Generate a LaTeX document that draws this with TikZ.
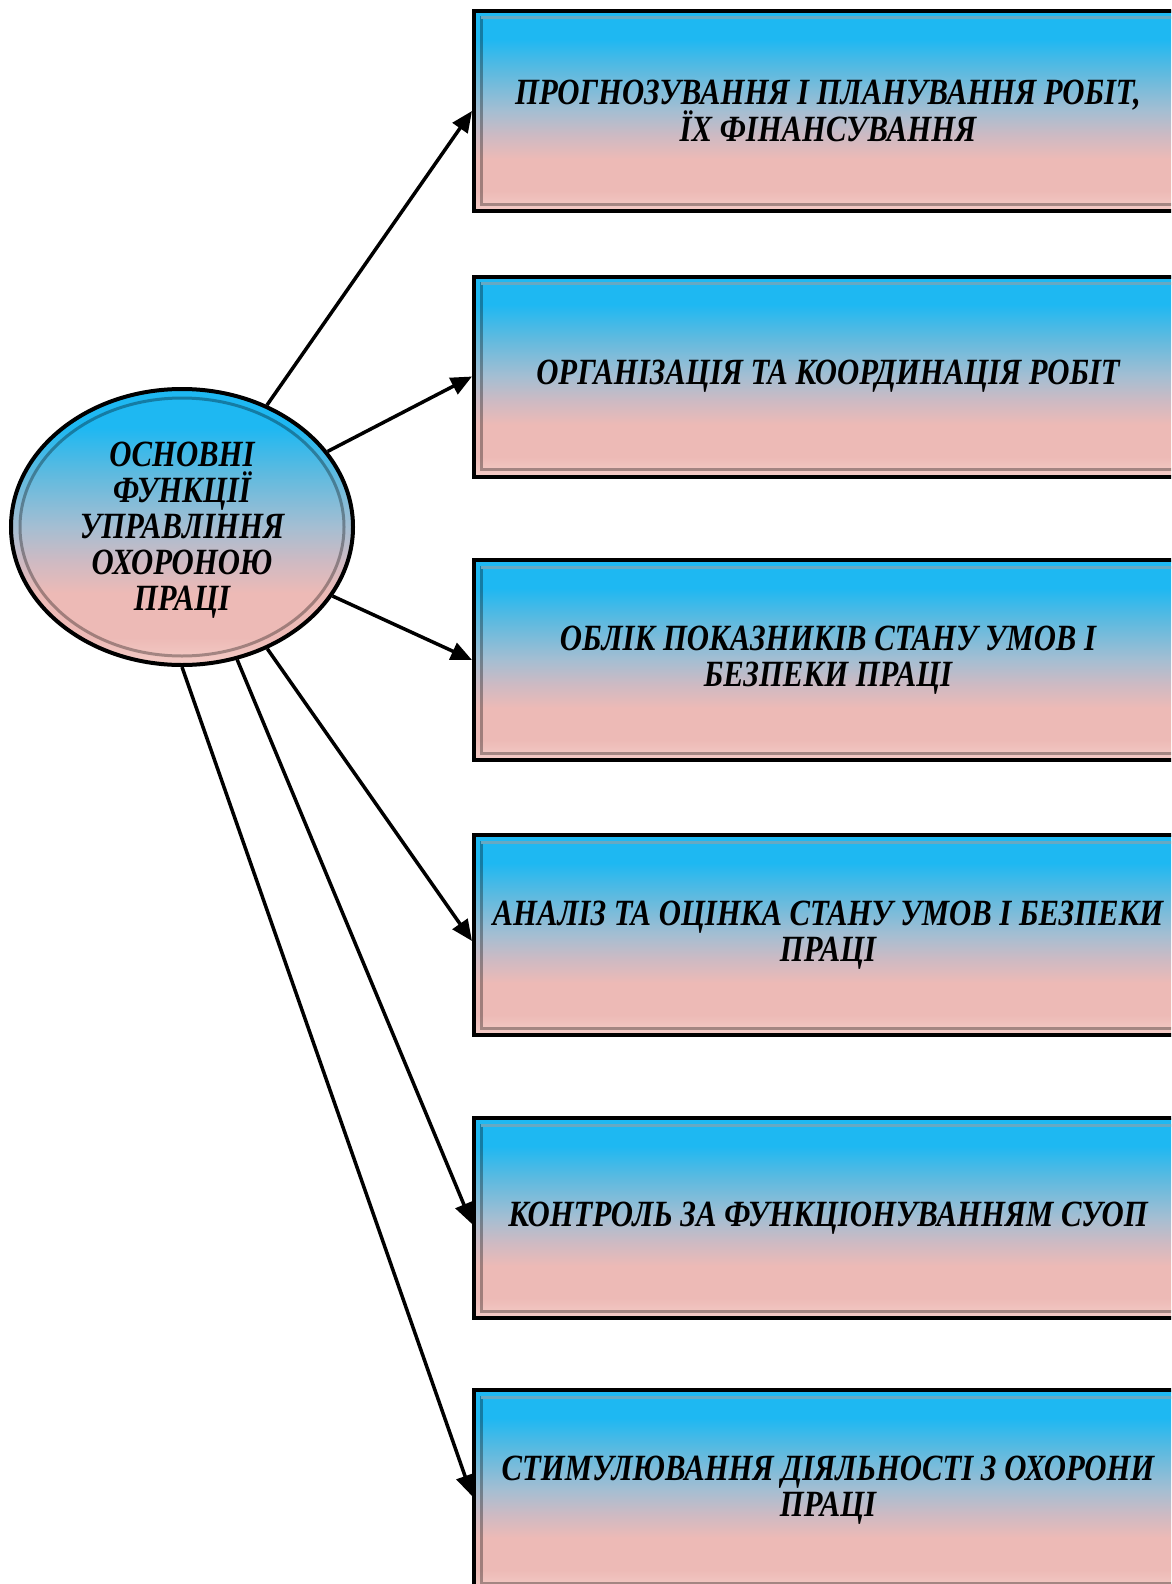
\documentclass[tikz,border=0pt]{standalone}
\usepackage{fontspec}
\setmainfont{Liberation Serif}
\newfontfamily\condfont[FakeStretch=0.83]{Liberation Serif}
\usetikzlibrary{arrows.meta,shapes.geometric}
\definecolor{topc}{RGB}{30,184,242}
\definecolor{bluem}{RGB}{92,186,224}
\definecolor{midc}{RGB}{165,190,210}
\definecolor{mauvec}{RGB}{205,186,195}
\definecolor{pinkc}{RGB}{237,186,182}
\definecolor{botc}{RGB}{244,204,199}
\pgfdeclareverticalshading{bp}{100bp}{color(0bp)=(botc); color(25bp)=(botc); color(30bp)=(pinkc); color(38bp)=(pinkc); color(44bp)=(mauvec); color(50bp)=(midc); color(60bp)=(bluem); color(68bp)=(topc); color(100bp)=(topc)}
\tikzset{
  funcbox/.style={rectangle, draw=black, line width=4, shading=bp, minimum width=708, minimum height=200, inner sep=0},
  oval/.style={ellipse, draw=black, line width=4, shading=bp, minimum width=342, minimum height=276, inner sep=0},
  bevel/.style={draw=black, opacity=0.32, line width=3},
  bevellight/.style={draw=white, opacity=0.35, line width=3},
  ftext/.style={font=\condfont\bfseries\itshape\fontsize{37}{36}\selectfont, align=center, text=black},
  arr/.style={line width=3.5, -{Triangle[length=21,width=18]}}
}
\begin{document}
\begin{tikzpicture}[x=1pt,y=-1pt]
\useasboundingbox (0,0) rectangle (1171,1584);
\clip (0,0) rectangle (1171,1584);
% boxes
\node[funcbox] (b1) at (828,111) {};
\node[funcbox] (b2) at (828,376.5) {};
\node[funcbox] (b3) at (828,660) {};
\node[funcbox] (b4) at (828,935) {};
\node[funcbox] (b5) at (828,1218) {};
\node[funcbox] (b6) at (828,1490) {};
\foreach \b in {b1,b2,b3,b4,b5,b6}{
  \draw[bevel] ([shift={(9,9)}]\b.north west) rectangle ([shift={(-9,-9)}]\b.south east);
  \draw[bevellight] ([shift={(9,9)}]\b.north west) -- ([shift={(-9,9)}]\b.north east);
}
% ellipse
\node[oval] (e) at (182,527) {};
\draw[bevel] (e.center) ellipse [x radius=162, y radius=129];
% texts
\node[ftext] (t0) at (182,530) {ОСНОВНІ\\ФУНКЦІЇ\\УПРАВЛІННЯ\\ОХОРОНОЮ\\ПРАЦІ};
\node[ftext] (t1) at (b1.center) {ПРОГНОЗУВАННЯ І ПЛАНУВАННЯ РОБІТ,\\ЇХ ФІНАНСУВАННЯ};
\node[ftext] (t2) at (b2.center) {ОРГАНІЗАЦІЯ ТА КООРДИНАЦІЯ РОБІТ};
\node[ftext] (t3) at (b3.center) {ОБЛІК ПОКАЗНИКІВ СТАНУ УМОВ І\\БЕЗПЕКИ ПРАЦІ};
\node[ftext] (t4) at (b4.center) {АНАЛІЗ ТА ОЦІНКА СТАНУ УМОВ І БЕЗПЕКИ\\ПРАЦІ};
\node[ftext] (t5) at (b5.center) {КОНТРОЛЬ ЗА ФУНКЦІОНУВАННЯМ СУОП};
\node[ftext] (t6) at (b6.center) {СТИМУЛЮВАННЯ ДІЯЛЬНОСТІ З ОХОРОНИ\\ПРАЦІ};
% arrows
\draw[arr] (e) -- (b1.west);
\draw[arr] (e) -- (b2.west);
\draw[arr] (e) -- (b3.west);
\draw[arr] (e) -- ([yshift=-6]b4.west);
\draw[arr] (e) -- ([yshift=-6]b5.west);
\draw[arr] (e.south) -- ([yshift=-6]b6.west);
\end{tikzpicture}
\end{document}
